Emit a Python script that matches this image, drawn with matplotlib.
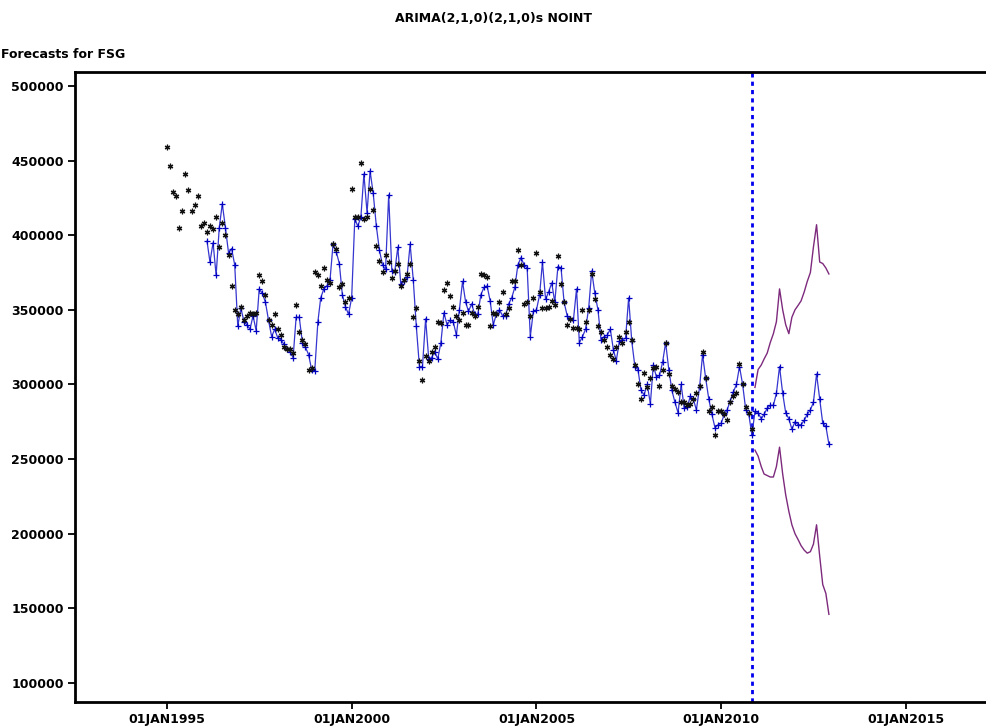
import datetime as dt
import numpy as np
import pandas as pd
import matplotlib
matplotlib.use('Agg')
import matplotlib.pyplot as plt

# observed series (thousands), monthly from Jan 1995 to Nov 2010
actual = [
    459, 446, 429, 426, 405, 416, 441, 430, 416, 420, 426, 406,
    408, 402, 406, 404, 412, 392, 408, 400, 387, 366, 350, 347,
    352, 343, 346, 348, 347, 348, 373, 369, 360, 343, 340, 347,
    337, 333, 325, 324, 324, 321, 353, 335, 330, 327, 310, 311,
    375, 373, 366, 378, 370, 368, 394, 391, 365, 367, 355, 358,
    431, 412, 412, 448, 411, 412, 431, 417, 393, 383, 375, 387,
    382, 371, 376, 381, 366, 370, 374, 381, 345, 351, 316, 303,
    319, 316, 322, 325, 342, 341, 363, 368, 359, 352, 346, 343,
    348, 340, 340, 348, 346, 352, 374, 373, 372, 339, 348, 347,
    355, 362, 347, 351, 369, 369, 390, 380, 354, 355, 346, 358,
    388, 362, 351, 351, 352, 356, 353, 386, 367, 355, 340, 344,
    338, 338, 337, 350, 342, 350, 374, 357, 339, 335, 330, 325,
    320, 317, 325, 332, 328, 335, 342, 330, 313, 300, 290, 308,
    298.5, 304, 311, 312, 299, 310, 328, 307, 299, 297, 295, 288.5,
    288, 286, 287, 290, 294, 299, 322, 304, 282, 285, 266, 282,
    282, 280, 276, 288.5, 292, 294, 314, 300, 285, 281, 270,
]

# one-step-ahead predictions, Feb 1996 to Nov 2010
fitted = [
    396, 382, 395, 373, 405, 421, 405, 388, 391, 380, 339,
    351, 342, 340, 337, 346, 336, 364, 361, 355, 343, 332, 337,
    331, 330, 327, 324, 322, 318, 345, 345, 328, 325, 320, 310,
    309, 342, 358, 364, 366, 370, 394, 389, 381, 360, 352, 347,
    358, 411, 406, 412, 441, 415, 443, 428, 406, 390, 380, 377,
    427, 376, 375, 392, 367, 369, 372, 394, 370, 339, 312, 312,
    344, 317, 318, 322, 317, 328, 348, 340, 343, 342, 333, 350,
    369, 355, 349, 354, 347, 347, 360, 365, 366, 356, 340, 347,
    350, 346, 346, 354, 358, 365, 380, 385, 380, 378, 332, 349,
    350, 360, 382, 357, 362, 368, 355, 379, 378, 355, 346, 344,
    343, 364, 328, 332, 337, 351, 376, 361, 350, 330, 332, 333,
    337, 323, 316, 329, 330, 331, 358, 329, 312, 310, 296, 293,
    300, 287, 313, 305, 306, 315, 328, 310, 296, 288, 281, 300,
    284, 285, 292, 290, 283, 298, 320, 304, 290, 280, 271, 273,
    274, 280, 283, 289, 295, 300, 312, 300, 283, 280, 266,
]

# forecasts Dec 2010 to Dec 2012 with confidence limits
forecast = [282, 281, 277, 280, 284, 286, 286, 294, 312, 294, 281, 277, 270,
            275, 273, 273, 276, 280, 283, 288, 307, 290, 274, 272, 260]
upper = [298, 310, 313, 317, 321, 328, 334, 342, 364, 350, 340, 334, 345,
         350, 353, 356, 362, 369, 375, 392, 407, 382, 381, 378, 374]
lower = [256, 252, 245, 240, 239, 238, 238, 245, 258, 240, 226, 215, 206,
         200, 196, 192, 189, 187, 188, 193, 206, 185, 166, 160, 146]

tick_years = [1995, 2000, 2005, 2010, 2015]
y_ticks = [100000, 150000, 200000, 250000, 300000, 350000, 400000, 450000, 500000]

act_dates = pd.date_range('1995-01-01', periods=len(actual), freq='MS')
fit_dates = pd.date_range('1996-02-01', periods=len(fitted), freq='MS')
fc_dates = pd.date_range('2010-12-01', periods=len(forecast), freq='MS')

act = np.array(actual) * 1000
fit = np.array(fitted) * 1000
fc = np.array(forecast) * 1000
up = np.array(upper) * 1000
lo = np.array(lower) * 1000

plt.rcParams['font.family'] = ['DejaVu Sans']

fig = plt.figure(figsize=(9.87, 7.27), dpi=100)
ax = fig.add_axes([0.076, 0.0344, 0.932, 0.8666])

# fitted + forecast as one continuous line
line_dates = list(fit_dates) + list(fc_dates)
line_vals = np.concatenate([fit, fc])
ax.plot(line_dates, line_vals, color='#3535d0', lw=0.9, marker='+', ms=5, mew=0.9,
        mec='#0000c0', zorder=3)
ax.plot(fc_dates, up, color='#7d2a7d', lw=1.0, zorder=2)
ax.plot(fc_dates, lo, color='#7d2a7d', lw=1.0, zorder=2)
ax.plot(act_dates, act, ls='none', marker=(6, 2, 0), ms=4, mew=0.9,
        color='#111111', zorder=4)

ax.axvline(dt.datetime(2010, 11, 1), color='#0000ee', lw=2.0,
           ls=(0, (1.5, 1.5)), zorder=1)

ax.set_xlim(dt.datetime(1992, 7, 6), dt.datetime(2017, 5, 30))
ax.set_ylim(87300, 509300)

ax.set_xticks([dt.datetime(y, 1, 1) for y in tick_years])
ax.set_xticklabels(['01JAN%d' % y for y in tick_years], fontsize=9, fontweight='bold')
ax.set_yticks(y_ticks)
ax.set_yticklabels([str(v) for v in y_ticks], fontsize=9, fontweight='bold')
ax.tick_params(axis='both', direction='out', length=5, width=1.3, pad=3, colors='black')

for s in ['left', 'bottom', 'top']:
    ax.spines[s].set_linewidth(2.0)
ax.spines['right'].set_visible(False)

fig.text(0.5, 1 - 18 / 727, 'ARIMA(2,1,0)(2,1,0)s NOINT', ha='center', va='center',
         fontsize=9, fontweight='bold')
fig.text(0.001, 1 - 55 / 727, 'Forecasts for FSG', ha='left', va='center',
         fontsize=9, fontweight='bold')

fig.savefig('out.png', dpi=100)
